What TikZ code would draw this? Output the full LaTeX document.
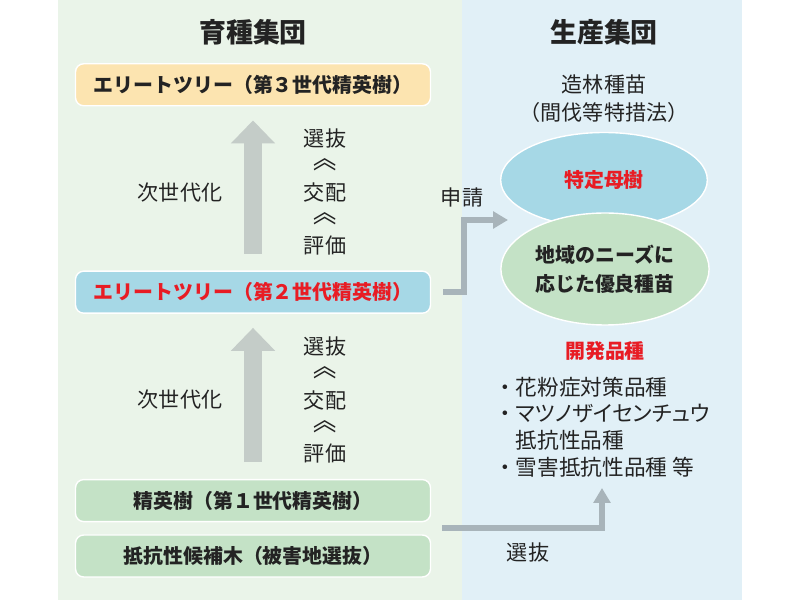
\documentclass[tikz,border=0pt]{standalone}
\usepackage{fontspec}
\setmainfont{Noto Sans CJK JP}
\usepackage{tikz}
\usetikzlibrary{arrows.meta,positioning,calc,shapes.geometric}

\definecolor{breedbg}{RGB}{234,244,233}
\definecolor{prodbg}{RGB}{225,240,247}
\definecolor{boxorange}{RGB}{252,228,176}
\definecolor{boxblue}{RGB}{166,216,230}
\definecolor{boxgreen}{RGB}{196,226,198}
\definecolor{upgray}{RGB}{196,204,200}
\definecolor{linkgray}{RGB}{168,180,186}
\definecolor{ink}{RGB}{35,35,35}
\definecolor{alert}{RGB}{232,28,36}
\newcommand\upmark{\raisebox{3.5pt}{\scalebox{1.1}[1.35]{︽}}}

\begin{document}
\begin{tikzpicture}[x=0.03cm,y=-0.03cm,text=ink,font=\fontsize{18}{23}\selectfont]
    \tikzstyle{gen}=[draw=white,line width=1.2pt,rounded corners=7pt,minimum width=10.65cm,minimum height=1.26cm,font=\fontsize{17}{20}\selectfont\bfseries]
    \tikzstyle{pool}=[ellipse,draw=white,line width=1.2pt,minimum width=6.2cm,align=center,font=\fontsize{17}{25}\selectfont\bfseries]
    \tikzstyle{title}=[font=\fontsize{23}{26}\selectfont\bfseries]
    \tikzstyle{procs}=[align=center,font=\fontsize{18}{23}\selectfont]
    \tikzstyle{nextgen}=[draw=upgray,line width=0.54cm,-{Triangle[width=1.29cm,length=0.69cm]},shorten <=0.5cm,shorten >=0.42cm]
    \tikzstyle{linkarrow}=[draw=linkgray,line width=0.18cm,-{Triangle[width=0.5cm,length=0.45cm]}]
    \useasboundingbox (0,0) rectangle (800,600);
    \fill[breedbg] (58,0) rectangle (462,600);
    \fill[prodbg] (462,0) rectangle (742,600);

    \node[title]                 (breed) at (253,32)  {育種集団};
    \node[title]                 (prod)  at (604,32)  {生産集団};
    \node[gen,fill=boxgreen]     (g0)    at (253,556) {抵抗性候補木（被害地選抜）};
    \node[gen,fill=boxgreen]     (g1)    [above=0.36cm of g0] {精英樹（第１世代精英樹）};
    \node[gen,fill=boxblue,text=alert] (g2) [above=4.95cm of g1] {エリートツリー（第２世代精英樹）};
    \node[gen,fill=boxorange]    (g3)    [above=4.92cm of g2] {エリートツリー（第３世代精英樹）};
    \node                        (nx3)   at (180,193) {次世代化};
    \node[procs]                 (pr3)   at (325,192) {選抜\\\upmark\\交配\\\upmark\\評価};
    \node                        (nx2)   at (180,400) {次世代化};
    \node[procs]                 (pr2)   at (325,400) {選抜\\\upmark\\交配\\\upmark\\評価};
    \draw[nextgen] (g1) -- (g2);
    \draw[nextgen] (g2) -- (g3);

    \node[align=center,font=\fontsize{18}{24}\selectfont] (seed) at (604,99) {造林種苗\\（間伐等特措法）};
    \coordinate (apply) at (508,220);
    \draw[linkarrow,shorten <=0.36cm] (g2.east) -- ++(33,0) |- (apply);
    \node                        (req)   at (462,197) {申請};
    \node[pool,fill=boxblue,text=alert,minimum height=2.85cm] (mother) at (604,180) {特定母樹};
    \node[pool,fill=boxgreen,minimum height=3.36cm]           (local)  at (605,269) {地域のニーズに\\応じた優良種苗};
    \node[text=alert,font=\fontsize{17}{20}\selectfont\bfseries] (bred) at (605,351) {開発品種};
    \node[anchor=west,align=left,inner sep=0,font=\fontsize{18.5}{22.8}\selectfont] (kinds) at (494,427)
        {・花粉症対策品種\\・{\addfontfeatures{RawFeature=+palt}マツノザイセンチュウ}\\\hspace*{1em}抵抗性品種\\・雪害抵抗性品種 等};
    \coordinate (pick) at ($(g1.south east)!0.5!(g0.north east)$);
    \coordinate (bredin) at (602,488);
    \draw[linkarrow,shorten <=0.33cm] (pick) -| (bredin);
    \node                        (sel)   at (528,553) {選抜};
\end{tikzpicture}
\end{document}
